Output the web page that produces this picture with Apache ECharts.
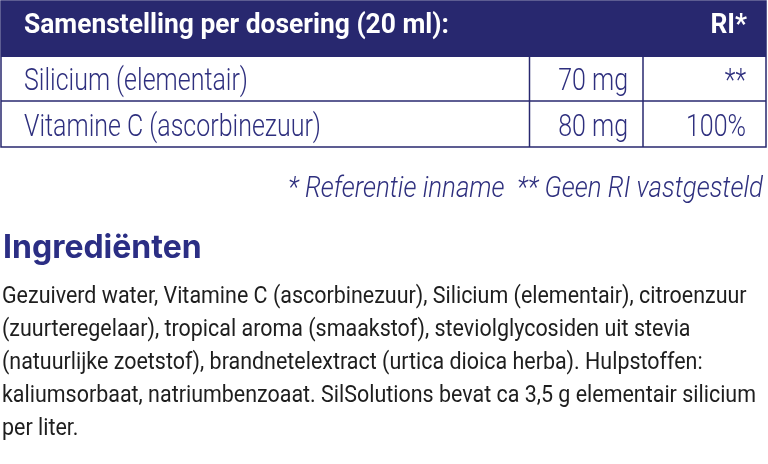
<!DOCTYPE html>
<html><head><meta charset="utf-8">
<script src="https://cdn.jsdelivr.net/npm/echarts@6/dist/echarts.min.js"></script>
<style>html,body{margin:0;padding:0;background:#fff}#c{width:768px;height:464px}</style>
</head><body><div id="c"></div>
<script>
const headerTitle = 'Samenstelling per dosering (20 ml):';
const headerRI = 'RI*';
const nutrients = ['Silicium (elementair)', 'Vitamine C (ascorbinezuur)'];
const amounts = ['70 mg', '80 mg'];
const riValues = ['**', '100%'];
const footnote = '* Referentie inname  ** Geen RI vastgesteld';
const ingredientsTitle = 'Ingrediënten';
const ingredientLines = [
  'Gezuiverd water, Vitamine C (ascorbinezuur), Silicium (elementair), citroenzuur',
  '(zuurteregelaar), tropical aroma (smaakstof), steviolglycosiden uit stevia',
  '(natuurlijke zoetstof), brandnetelextract (urtica dioica herba). Hulpstoffen:',
  'kaliumsorbaat, natriumbenzoaat. SilSolutions bevat ca 3,5 g elementair silicium',
  'per liter.'
];

const NAVY = '#28286f';
const TEXTNAVY = '#2e2f7e';
const BODY = '#1e1e1e';
const ctx = document.createElement('canvas').getContext('2d');
function fit(text, font, target) {
  ctx.font = font;
  return target / ctx.measureText(text).width;
}
const F = 'Roboto';
const hdrFont = {size: 27, weight: 'bold', style: 'normal'};
const rowFont = {size: 31, weight: 300, style: 'normal'};
const footFont = {size: 30, weight: 300, style: 'italic'};
const bodyFont = {size: 24, weight: 'normal', style: 'normal'};
const fstr = f => `${f.style} ${f.weight} ${f.size}px ${F}`;
const sHdr = fit(headerTitle, fstr(hdrFont), 425);
const sRow = fit(nutrients[0], fstr(rowFont), 224);
const sFoot = fit(footnote, fstr(footFont), 475);
const sBody = fit(ingredientLines[3], fstr(bodyFont), 754);

function txt(text, x, y, f, s, fill, align) {
  return {type: 'text', x, y, scaleX: s, z: 10,
    style: {text, fontFamily: F, fontSize: f.size, fontWeight: f.weight, fontStyle: f.style,
      fill, align: align || 'left', verticalAlign: 'middle'}};
}

const L = 1, R = 766, T = 1, HB = 57, RB = [101, 147];
const C1 = 529.5, C2 = 643;
const els = [];
els.push({type: 'rect', shape: {x: L, y: T, width: R - L, height: HB - T}, style: {fill: NAVY}});
els.push({type: 'rect', shape: {x: L, y: T, width: R - L, height: RB[1] - T}, style: {fill: 'none', stroke: NAVY, lineWidth: 1.5}, z: 5});
els.push({type: 'line', shape: {x1: L, y1: RB[0], x2: R, y2: RB[0]}, style: {stroke: NAVY, lineWidth: 1.5}, z: 5});
[C1, C2].forEach(cx => els.push({type: 'line', shape: {x1: cx, y1: HB, x2: cx, y2: RB[1]}, style: {stroke: NAVY, lineWidth: 1.5}, z: 5}));

els.push(txt(headerTitle, 24, 26.5, hdrFont, sHdr, '#fff'));
els.push(txt(headerRI, 747, 26.5, hdrFont, sHdr, '#fff', 'right'));
const rowMid = [82, 128];
nutrients.forEach((n, i) => {
  els.push(txt(n, 24, rowMid[i], rowFont, sRow, TEXTNAVY));
  els.push(txt(amounts[i], 628, rowMid[i], rowFont, sRow, TEXTNAVY, 'right'));
  els.push(txt(riValues[i], 746, rowMid[i], rowFont, sRow, TEXTNAVY, 'right'));
});
els.push(txt(footnote, 763, 189.5, footFont, sFoot, TEXTNAVY, 'right'));
els.push({type: 'text', x: 3, y: 248.5, z: 10,
  style: {text: ingredientsTitle, fontFamily: 'Inter', fontSize: 32, fontWeight: 'bold', fill: '#2b2e84', align: 'left', verticalAlign: 'middle'}});
ingredientLines.forEach((l, i) => {
  els.push(txt(l, 2, 297 + i * 33, bodyFont, sBody, BODY));
});

const chart = echarts.init(document.getElementById('c'), null, {renderer: 'canvas'});
chart.setOption({backgroundColor: '#fff', animation: false, graphic: {elements: els}});
</script></body></html>
